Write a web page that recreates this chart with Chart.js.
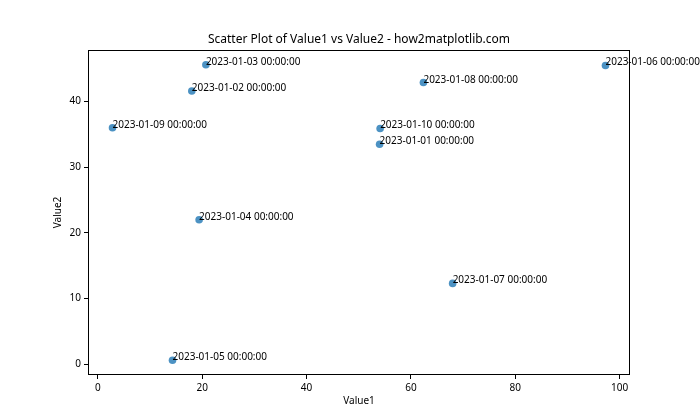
<!DOCTYPE html>
<html>
<head>
<meta charset="utf-8">
<script src="https://cdn.jsdelivr.net/npm/chart.js@4"></script>
<style>
  html, body { margin: 0; padding: 0; background: #fff; }
  #wrap { width: 700px; height: 420px; }
</style>
</head>
<body>
<div id="wrap"><canvas id="scatterChart" width="700" height="420"></canvas></div>
<script>
// data
const dates = [
    '2023-01-01 00:00:00', '2023-01-02 00:00:00', '2023-01-03 00:00:00',
    '2023-01-04 00:00:00', '2023-01-05 00:00:00', '2023-01-06 00:00:00',
    '2023-01-07 00:00:00', '2023-01-08 00:00:00', '2023-01-09 00:00:00',
    '2023-01-10 00:00:00'
];
const value1 = [54.0, 18.0, 20.7, 19.4, 14.3, 97.3, 68.0, 62.4, 2.8, 54.1];
const value2 = [33.5, 41.6, 45.6, 22.0, 0.6, 45.5, 12.3, 42.9, 36.0, 35.9];
const xTicks = [0, 20, 40, 60, 80, 100];
const yTicks = [0, 10, 20, 30, 40];

const FONT = '"Noto Sans", sans-serif';

// frame, title, axis titles and the date labels next to each point
const annotate = {
    id: 'annotate',
    afterDatasetsDraw(chart) {
        const ctx = chart.ctx;
        const a = chart.chartArea;
        ctx.save();
        ctx.strokeStyle = '#000';
        ctx.lineWidth = 1;
        ctx.strokeRect(a.left + 0.5, a.top + 0.5, a.right - a.left - 1, a.bottom - a.top - 1);

        ctx.fillStyle = '#000';
        ctx.font = '10px ' + FONT;
        ctx.textAlign = 'left';
        ctx.textBaseline = 'alphabetic';
        const meta = chart.getDatasetMeta(0);
        meta.data.forEach((pt, i) => {
            ctx.fillText(dates[i], pt.x, pt.y);
        });

        ctx.textAlign = 'center';
        ctx.textBaseline = 'middle';
        ctx.font = '12px ' + FONT;
        ctx.fillText('Scatter Plot of Value1 vs Value2 - how2matplotlib.com', (a.left + a.right) / 2, 40);

        ctx.font = '10px ' + FONT;
        ctx.fillText('Value1', (a.left + a.right) / 2, 401);
        ctx.translate(58, (a.top + a.bottom) / 2);
        ctx.rotate(-Math.PI / 2);
        ctx.fillText('Value2', 0, 0);
        ctx.restore();
    }
};

new Chart(document.getElementById('scatterChart'), {
    type: 'scatter',
    data: {
        datasets: [{
            label: 'Value2',
            data: value1.map((v, i) => ({ x: v, y: value2[i] })),
            backgroundColor: 'rgba(31, 119, 180, 0.8)',
            borderWidth: 0,
            pointRadius: 3.8
        }]
    },
    options: {
        responsive: false,
        animation: false,
        layout: { padding: { left: 0, right: 70, top: 50, bottom: 0 } },
        scales: {
            x: {
                min: -1.9,
                max: 102.0,
                afterBuildTicks: s => { s.ticks = xTicks.map(v => ({ value: v })); },
                afterFit: s => { s.height = 45; },
                grid: { drawOnChartArea: false, color: '#000', tickLength: 4 },
                border: { display: false },
                ticks: { color: '#000', padding: 3, maxRotation: 0, font: { size: 10, family: FONT } }
            },
            y: {
                min: -1.65,
                max: 47.85,
                afterBuildTicks: s => { s.ticks = yTicks.map(v => ({ value: v })); },
                afterFit: s => { s.width = 88; },
                grid: { drawOnChartArea: false, color: '#000', tickLength: 4 },
                border: { display: false },
                ticks: { color: '#000', padding: 3, font: { size: 10, family: FONT } }
            }
        },
        plugins: {
            legend: { display: false },
            tooltip: { enabled: false }
        }
    },
    plugins: [annotate]
});
</script>
</body>
</html>
